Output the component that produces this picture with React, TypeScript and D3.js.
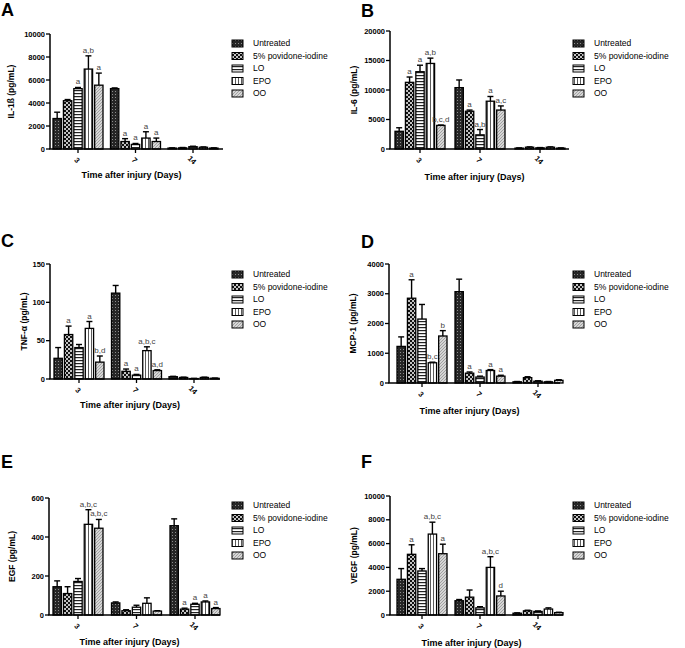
import React from "react";
import * as d3 from "d3";

const days = ["3", "7", "14"];
const groups = ["Untreated", "5% povidone-iodine", "LO", "EPO", "OO"];

// values per group (rows) per day (cols)
const il1bMean = [[2650, 5250, 80], [4200, 650, 100], [5250, 400, 200], [6950, 950, 150], [5550, 650, 80]];
const il1bErr = [[550, 60, 20], [100, 250, 30], [100, 80, 40], [1150, 550, 30], [1050, 300, 20]];
const il1bSig = [["", "", ""], ["", "a", ""], ["a", "a", ""], ["a,b", "a", ""], ["a", "a", ""]];

const il6Mean = [[3000, 10400, 150], [11300, 6400, 300], [13100, 2400, 200], [14500, 8100, 300], [4000, 6600, 150]];
const il6Err = [[600, 1300, 40], [900, 200, 60], [1100, 900, 40], [900, 800, 60], [60, 700, 40]];
const il6Sig = [["", "", ""], ["a", "a", ""], ["a", "a,b", ""], ["a,b", "a", ""], ["b,c,d", "a,c", ""]];

const tnfMean = [[27, 112, 3], [58, 10, 2], [41, 5, 0.6], [66, 37, 2], [22, 11, 1]];
const tnfErr = [[14, 10, 0.5], [11, 3, 0.4], [4, 1, 0.2], [9, 5, 0.4], [8, 1, 0.2]];
const tnfSig = [["", "", ""], ["a", "a", ""], ["", "a", ""], ["a", "a,b,c", ""], ["b,d", "a,d", ""]];

const mcpMean = [[1230, 3070, 40], [2850, 330, 180], [2150, 200, 60], [680, 420, 40], [1580, 230, 90]];
const mcpErr = [[320, 420, 10], [620, 40, 30], [490, 30, 15], [20, 30, 10], [180, 30, 20]];
const mcpSig = [["", "", ""], ["a", "a", ""], ["", "a", ""], ["b,c", "a", ""], ["b", "a", ""]];

const egfMean = [[145, 62, 458], [110, 22, 30], [172, 40, 55], [465, 60, 67], [445, 20, 33]];
const egfErr = [[30, 5, 35], [35, 5, 5], [15, 10, 5], [75, 28, 5], [45, 2, 5]];
const egfSig = [["", "", ""], ["", "", "a"], ["", "", "a"], ["a,b,c", "", "a"], ["a,b,c", "", "a"]];

const vegfMean = [[3000, 1200, 150], [5100, 1500, 350], [3700, 600, 300], [6800, 4000, 500], [5150, 1600, 200]];
const vegfErr = [[900, 100, 30], [800, 600, 50], [200, 100, 40], [1000, 900, 100], [800, 400, 30]];
const vegfSig = [["", "", ""], ["a", "", ""], ["", "", ""], ["a,b,c", "a,b,c", ""], ["a", "d", ""]];

const il1bTicks = [0, 2000, 4000, 6000, 8000, 10000];
const il6Ticks = [0, 5000, 10000, 15000, 20000];
const tnfTicks = [0, 50, 100, 150];
const mcpTicks = [0, 1000, 2000, 3000, 4000];
const egfTicks = [0, 200, 400, 600];
const vegfTicks = [0, 2000, 4000, 6000, 8000, 10000];

const patternIds = ["pUnt", "pPov", "pLO", "pEPO", "pOO"];
const FONT = "'Liberation Sans', Arial, sans-serif";

type Cfg = {
  letter: string; lx: number; ly: number;
  title: string; mean: number[][]; err: number[][]; sig: string[][]; ticks: number[];
  axisX: number; xEnd: number; yTop: number; y0: number; barStart: number; step: number;
  titleX: number; xTitleY: number; legX: number; legY: number;
};

const panels: Cfg[] = [
  { letter: "A", lx: 1, ly: 16, title: "IL-1ß (pg/mL)", mean: il1bMean, err: il1bErr, sig: il1bSig, ticks: il1bTicks,
    axisX: 50, xEnd: 223, yTop: 34, y0: 149, barStart: 53, step: 57.5, titleX: 14, xTitleY: 178, legX: 232, legY: 43.5 },
  { letter: "B", lx: 361, ly: 16.5, title: "IL-6 (pg/mL)", mean: il6Mean, err: il6Err, sig: il6Sig, ticks: il6Ticks,
    axisX: 390, xEnd: 569, yTop: 31, y0: 149, barStart: 395, step: 60, titleX: 357, xTitleY: 180, legX: 573, legY: 43.5 },
  { letter: "C", lx: 1, ly: 247, title: "TNF-α (pg/mL)", mean: tnfMean, err: tnfErr, sig: tnfSig, ticks: tnfTicks,
    axisX: 50, xEnd: 220, yTop: 264, y0: 379, barStart: 54, step: 57.5, titleX: 27, xTitleY: 408, legX: 232, legY: 274.5 },
  { letter: "D", lx: 361, ly: 248, title: "MCP-1 (pg/mL)", mean: mcpMean, err: mcpErr, sig: mcpSig, ticks: mcpTicks,
    axisX: 389, xEnd: 560, yTop: 264, y0: 383, barStart: 397, step: 58, titleX: 356, xTitleY: 414, legX: 573, legY: 274.5 },
  { letter: "E", lx: 1, ly: 468, title: "EGF (pg/mL)", mean: egfMean, err: egfErr, sig: egfSig, ticks: egfTicks,
    axisX: 49, xEnd: 220, yTop: 498, y0: 615, barStart: 53, step: 58.5, titleX: 15, xTitleY: 645, legX: 232, legY: 505.5 },
  { letter: "F", lx: 361, ly: 468, title: "VEGF (pg/mL)", mean: vegfMean, err: vegfErr, sig: vegfSig, ticks: vegfTicks,
    axisX: 390, xEnd: 563, yTop: 496, y0: 615, barStart: 397, step: 58, titleX: 357, xTitleY: 646, legX: 573, legY: 505.5 },
];

function Panel({ c }: { c: Cfg }) {
  const groupW = 50;
  const xDay = d3.scaleBand<string>()
    .domain(days)
    .range([c.barStart, c.barStart + 3 * c.step - (c.step - groupW)])
    .paddingInner((c.step - groupW) / c.step)
    .paddingOuter(0);
  const xGrp = d3.scaleBand<string>().domain(groups).range([0, xDay.bandwidth()]).paddingInner(0.2).paddingOuter(0);
  const yMax = c.ticks[c.ticks.length - 1];
  const y = d3.scaleLinear().domain([0, yMax]).range([c.y0, c.yTop]);
  const bw = xGrp.bandwidth();
  const yMid = (c.y0 + c.yTop) / 2;
  const fmt = d3.format("d");

  return (
    <g fontFamily={FONT}>
      <text x={c.lx} y={c.ly} fontSize={18} fontWeight="bold">{c.letter}</text>
      {groups.map((g, gi) =>
        days.map((d, di) => {
          const v = c.mean[gi][di];
          const e = c.err[gi][di];
          const x = (xDay(d) as number) + (xGrp(g) as number);
          const cx = x + bw / 2;
          const yt = y(v);
          const ye = y(v + e);
          const s = c.sig[gi][di];
          return (
            <g key={g + d}>
              <line x1={cx} x2={cx} y1={yt} y2={ye} stroke="#000" strokeWidth={1.4} />
              <line x1={cx - 3} x2={cx + 3} y1={ye} y2={ye} stroke="#000" strokeWidth={1.4} />
              <rect x={x} y={yt} width={bw} height={Math.max(c.y0 - yt, 0.5)} fill={`url(#${patternIds[gi]})`} stroke="#000" strokeWidth={1.3} />
              {s && (
                <text x={cx} y={ye - 3} fontSize={8} fill="#444" textAnchor="middle">{s}</text>
              )}
            </g>
          );
        })
      )}
      <line x1={c.axisX} x2={c.axisX} y1={c.yTop} y2={c.y0} stroke="#000" strokeWidth={1.5} />
      {c.ticks.map((t) => (
        <g key={t}>
          <line x1={c.axisX - 4} x2={c.axisX} y1={y(t)} y2={y(t)} stroke="#000" strokeWidth={1.3} />
          <text x={c.axisX - 5} y={y(t)} dy="0.35em" fontSize={7.5} fontWeight="bold" textAnchor="end">{fmt(t)}</text>
        </g>
      ))}
      <text transform={`translate(${c.titleX},${yMid}) rotate(-90)`} fontSize={8.5} fontWeight="bold" textAnchor="middle">{c.title}</text>
      <line x1={c.axisX - 0.75} x2={c.xEnd} y1={c.y0} y2={c.y0} stroke="#000" strokeWidth={1.5} />
      {days.map((d) => {
        const cx = (xDay(d) as number) + xDay.bandwidth() / 2;
        return (
          <g key={d}>
            <line x1={cx} x2={cx} y1={c.y0} y2={c.y0 + 4} stroke="#000" strokeWidth={1.3} />
            <text transform={`translate(${cx - 1},${c.y0 + 11}) rotate(45)`} fontSize={7.5} fontWeight="bold" textAnchor="middle" dy="0.35em">{d}</text>
          </g>
        );
      })}
      <text x={(c.axisX + c.xEnd) / 2 - 5} y={c.xTitleY} fontSize={9} fontWeight="bold" textAnchor="middle">Time after injury (Days)</text>
      {groups.map((g, gi) => {
        const ly = c.legY + gi * 12.5;
        return (
          <g key={g}>
            <rect x={c.legX} y={ly - 3.5} width={11} height={7} fill={`url(#${patternIds[gi]})`} stroke="#000" strokeWidth={1} />
            <text x={c.legX + 21} y={ly} dy="0.35em" fontSize={8.5}>{g}</text>
          </g>
        );
      })}
    </g>
  );
}

export default function App() {
  return (
    <svg width={685} height={648} style={{ position: "absolute", left: 0, top: 0, background: "#fff" }}>
      <defs>
        <pattern id="pUnt" width={3} height={3} patternUnits="userSpaceOnUse">
          <rect width={3} height={3} fill="#262626" />
          <rect x={1} y={1} width={1} height={1} fill="#8c8c8c" />
        </pattern>
        <pattern id="pPov" width={4} height={4} patternUnits="userSpaceOnUse">
          <rect width={4} height={4} fill="#111" />
          <circle cx={1} cy={1} r={1} fill="#fff" />
          <circle cx={3} cy={3} r={1} fill="#fff" />
        </pattern>
        <pattern id="pLO" width={3} height={3} patternUnits="userSpaceOnUse">
          <rect width={3} height={3} fill="#fff" />
          <rect x={0} y={0} width={3} height={1.2} fill="#222" />
        </pattern>
        <pattern id="pEPO" width={3} height={3} patternUnits="userSpaceOnUse">
          <rect width={3} height={3} fill="#fff" />
          <rect x={1} y={0} width={0.8} height={3} fill="#333" />
        </pattern>
        <pattern id="pOO" width={3} height={3} patternUnits="userSpaceOnUse">
          <rect width={3} height={3} fill="#d6d6d6" />
          <path d="M0,3 L3,0" stroke="#8a8a8a" strokeWidth={0.7} />
        </pattern>
      </defs>
      <rect width={685} height={648} fill="#fff" />
      {panels.map((p) => (
        <Panel key={p.letter} c={p} />
      ))}
    </svg>
  );
}
